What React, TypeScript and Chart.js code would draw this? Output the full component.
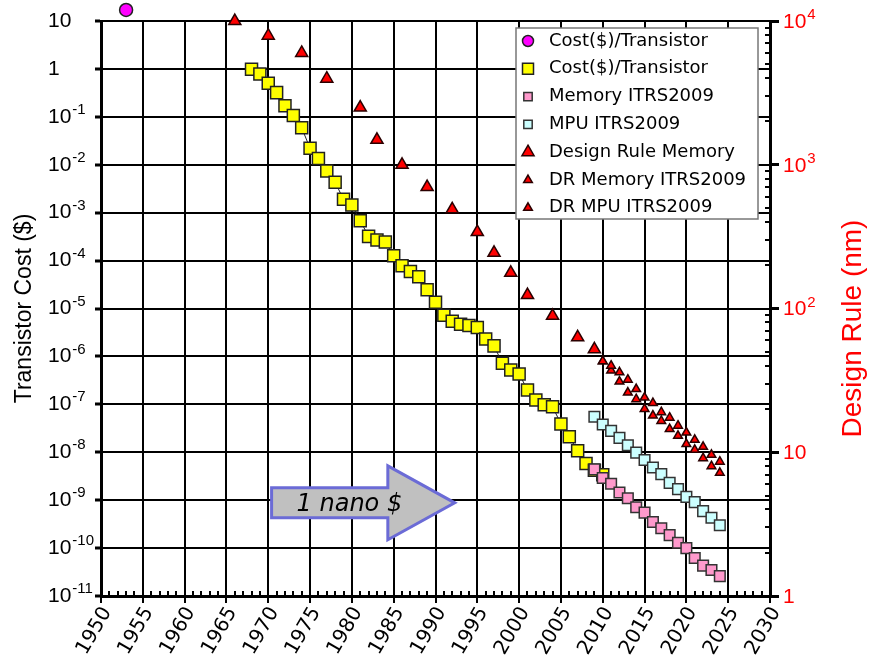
import React, { useEffect, useRef } from 'react';
import { Chart, registerables } from 'chart.js';

Chart.register(...registerables);

// ---------- data ----------
const circleYears = [1953];
const circleCost = [17];

const costYears = [
  1968, 1969, 1970, 1971, 1972, 1973, 1974, 1975, 1976, 1977, 1978, 1979, 1980,
  1981, 1982, 1983, 1984, 1985, 1986, 1987, 1988, 1989, 1990, 1991, 1992, 1993,
  1994, 1995, 1996, 1997, 1998, 1999, 2000, 2001, 2002, 2003, 2004, 2005, 2006,
  2007, 2008, 2009, 2010,
];
const costValues = [
  0.98, 0.78, 0.5, 0.32, 0.17, 0.107, 0.059, 0.022, 0.0135, 0.0074, 0.0043, 0.0019, 0.00145,
  6.8e-4, 3.2e-4, 2.7e-4, 2.45e-4, 1.26e-4, 7.8e-5, 5.9e-5, 4.6e-5, 2.45e-5, 1.35e-5, 7.2e-6, 5.4e-6, 4.7e-6,
  4.4e-6, 4.0e-6, 2.3e-6, 1.66e-6, 7.2e-7, 5.2e-7, 4.3e-7, 2.0e-7, 1.23e-7, 9.8e-8, 8.9e-8, 3.9e-8, 2.1e-8,
  1.07e-8, 5.8e-9, 4.2e-9, 3.4e-9,
];

const itrsYears = [2009, 2010, 2011, 2012, 2013, 2014, 2015, 2016, 2017, 2018, 2019, 2020, 2021, 2022, 2023, 2024];
const memoryCost = [
  4.4e-9, 2.9e-9, 2.2e-9, 1.45e-9, 1.1e-9, 7.1e-10, 5.5e-10, 3.5e-10,
  2.6e-10, 1.86e-10, 1.29e-10, 1.0e-10, 6.2e-11, 4.3e-11, 3.5e-11, 2.6e-11,
];
const mpuCost = [
  5.5e-8, 3.8e-8, 2.8e-8, 2.0e-8, 1.4e-8, 9.8e-9, 6.9e-9, 4.8e-9,
  3.5e-9, 2.3e-9, 1.7e-9, 1.17e-9, 9.1e-10, 5.9e-10, 4.3e-10, 3.0e-10,
];

const drYears = [1966, 1970, 1974, 1977, 1981, 1983, 1986, 1989, 1992, 1995, 1997, 1999, 2001, 2004, 2007, 2009];
const drValues = [10000, 7900, 6000, 3970, 2500, 1490, 1000, 700, 490, 340, 244, 177, 124, 89, 63, 52];

const drItrsYears = [2010, 2011, 2012, 2013, 2014, 2015, 2016, 2017, 2018, 2019, 2020, 2021, 2022, 2023, 2024];
const drMemItrs = [43, 40, 36, 32, 27.5, 24, 22, 19, 17.4, 15.3, 13.7, 12.2, 10.9, 9.6, 8.6];
const drMpuItrs = [43, 37, 31, 26, 23.4, 20, 18, 16.5, 14.5, 13, 11.4, 10.4, 9.1, 8.0, 7.2];

const leftExponents = [1, 0, -1, -2, -3, -4, -5, -6, -7, -8, -9, -10, -11];
const rightExponents = [4, 3, 2, 1, 0];
const yearMin = 1950;
const yearMax = 2030;
const yearStep = 5;

const leftTitle = 'Transistor Cost ($)';
const rightTitle = 'Design Rule (nm)';

const arrowText = '1 nano $';
const arrowStartYear = 1970.4;
const arrowHeadYear = 1984.3;
const arrowTipYear = 1992.3;
const arrowCost = 8.8e-10;

// ---------- helpers ----------
function zip(xs: number[], ys: number[]) {
  return xs.map((x, i) => ({ x, y: ys[i] }));
}

const SANS = '"Liberation Sans", Arial, sans-serif';
const COMIC = '"Comic Sans MS", "DejaVu Sans", sans-serif';

// draws "10" with a raised exponent, or "1" / "10" for exponents 0 / 1
function drawPowerLabel(ctx: CanvasRenderingContext2D, e: number, x: number, y: number, color: string) {
  ctx.fillStyle = color;
  ctx.textAlign = 'left';
  ctx.textBaseline = 'middle';
  ctx.font = '21px ' + SANS;
  if (e === 0) { ctx.fillText('1', x, y); return; }
  ctx.fillText('10', x, y);
  if (e === 1) return;
  const w = ctx.measureText('10').width;
  ctx.font = '15px ' + SANS;
  ctx.fillText(String(e), x + w + 1, y - 7);
}

type Marker = { shape: 'circle' | 'rect' | 'triangle'; size: number };
const legendMarkers: Marker[] = [
  { shape: 'circle', size: 5.5 },
  { shape: 'rect', size: 5.5 },
  { shape: 'rect', size: 4.2 },
  { shape: 'rect', size: 4.2 },
  { shape: 'triangle', size: 7 },
  { shape: 'triangle', size: 5 },
  { shape: 'triangle', size: 5 },
];

function drawMarker(ctx: CanvasRenderingContext2D, m: Marker, x: number, y: number, fill: string, stroke: string) {
  ctx.beginPath();
  if (m.shape === 'circle') {
    ctx.arc(x, y, m.size, 0, Math.PI * 2);
  } else if (m.shape === 'rect') {
    ctx.rect(x - m.size, y - m.size, m.size * 2, m.size * 2);
  } else {
    const r = m.size;
    ctx.moveTo(x, y - r);
    ctx.lineTo(x + r * 0.866, y + r * 0.5);
    ctx.lineTo(x - r * 0.866, y + r * 0.5);
    ctx.closePath();
  }
  ctx.fillStyle = fill;
  ctx.fill();
  ctx.strokeStyle = stroke;
  ctx.lineWidth = 1.5;
  ctx.stroke();
}

const extrasPlugin = {
  id: 'extras',
  afterDatasetsDraw(chart: any) {
    const { ctx, scales } = chart;
    // points that sit above the plot frame (Chart.js skips them inside the area check)
    ctx.save();
    chart.getDatasetMeta(0).data.forEach((el: any) => el.draw(ctx));
    ctx.restore();

    const x = scales.x;
    const y = scales.y;
    const xs = x.getPixelForValue(arrowStartYear);
    const xh = x.getPixelForValue(arrowHeadYear);
    const xt = x.getPixelForValue(arrowTipYear);
    const yc = y.getPixelForValue(arrowCost);
    const sh = 15;
    const hh = 37;
    ctx.save();
    ctx.beginPath();
    ctx.moveTo(xs, yc - sh);
    ctx.lineTo(xh, yc - sh);
    ctx.lineTo(xh, yc - hh);
    ctx.lineTo(xt, yc);
    ctx.lineTo(xh, yc + hh);
    ctx.lineTo(xh, yc + sh);
    ctx.lineTo(xs, yc + sh);
    ctx.closePath();
    ctx.fillStyle = '#c0c0c0';
    ctx.fill();
    ctx.strokeStyle = '#6b6bd6';
    ctx.lineWidth = 3;
    ctx.lineJoin = 'miter';
    ctx.stroke();
    ctx.fillStyle = '#000';
    ctx.font = 'italic 24px ' + COMIC;
    ctx.textAlign = 'left';
    ctx.textBaseline = 'middle';
    ctx.fillText(arrowText, xs + 25, yc + 2);
    ctx.restore();
  },
  afterDraw(chart: any) {
    const { ctx, scales, chartArea } = chart;
    const x = scales.x;
    const y = scales.y;
    const y2 = scales.y2;
    ctx.save();
    ctx.strokeStyle = '#000';
    ctx.lineWidth = 2;
    // minor ticks on the year axis (inward)
    for (let yr = yearMin + 1; yr < yearMax; yr++) {
      if (yr % yearStep === 0) continue;
      const px = Math.round(x.getPixelForValue(yr));
      ctx.beginPath();
      ctx.moveTo(px, chartArea.bottom);
      ctx.lineTo(px, chartArea.bottom - 5);
      ctx.stroke();
    }
    // minor ticks on the design-rule axis (inward)
    for (let e = 0; e < 4; e++) {
      for (let m = 2; m <= 9; m++) {
        const py = Math.round(y2.getPixelForValue(m * Math.pow(10, e)));
        ctx.beginPath();
        ctx.moveTo(chartArea.right, py);
        ctx.lineTo(chartArea.right - 5, py);
        ctx.stroke();
      }
    }
    // tick labels with superscript exponents
    leftExponents.forEach((e) => {
      drawPowerLabel(ctx, e, 48, y.getPixelForValue(Math.pow(10, e)), '#000');
    });
    rightExponents.forEach((e) => {
      drawPowerLabel(ctx, e, chartArea.right + 13, y2.getPixelForValue(Math.pow(10, e)) + 1, '#ff0000');
    });
    // right axis title (reads bottom to top)
    ctx.fillStyle = '#ff0000';
    ctx.font = '28px ' + SANS;
    ctx.textAlign = 'center';
    ctx.textBaseline = 'middle';
    ctx.translate(chartArea.right + 83, (chartArea.top + chartArea.bottom) / 2 + 20);
    ctx.rotate(-Math.PI / 2);
    ctx.fillText(rightTitle, 0, 0);
    ctx.restore();

    // legend box
    const lx = 516;
    const ly = 28;
    const lw = 242;
    const lh = 191;
    ctx.save();
    ctx.fillStyle = '#ffffff';
    ctx.fillRect(lx, ly, lw, lh);
    ctx.strokeStyle = '#777';
    ctx.lineWidth = 1.5;
    ctx.strokeRect(lx, ly, lw, lh);
    ctx.font = '18px ' + COMIC;
    ctx.textAlign = 'left';
    ctx.textBaseline = 'middle';
    chart.data.datasets.forEach((ds: any, i: number) => {
      const rowY = ly + 13 + i * 27.8;
      drawMarker(ctx, legendMarkers[i], lx + 12, rowY, ds.pointBackgroundColor, ds.pointBorderColor);
      ctx.fillStyle = '#000';
      ctx.fillText(ds.label, lx + 33, rowY);
    });
    ctx.restore();
  },
};

export default function App() {
  const canvasRef = useRef<HTMLCanvasElement | null>(null);

  useEffect(() => {
    const canvas = canvasRef.current;
    if (!canvas) return;
    const pt = (fill: string, stroke: string, style: string, radius: number) => ({
      pointBackgroundColor: fill,
      pointBorderColor: stroke,
      backgroundColor: fill,
      borderColor: stroke,
      pointStyle: style,
      pointRadius: radius,
      pointBorderWidth: 1.5,
      clip: false as const,
    });
    const chart = new Chart(canvas, {
      type: 'scatter',
      data: {
        datasets: [
          { label: 'Cost($)/Transistor', data: zip(circleYears, circleCost), yAxisID: 'y', ...pt('#ff00ff', '#222', 'circle', 6.5) },
          {
            label: 'Cost($)/Transistor', data: zip(costYears, costValues), yAxisID: 'y', order: 2,
            ...pt('#ffff00', '#222', 'rect', 8.5),
            showLine: true, borderColor: '#222', borderWidth: 1,
          },
          { label: 'Memory ITRS2009', data: zip(itrsYears, memoryCost), yAxisID: 'y', order: 1, ...pt('#ff99cc', '#333', 'rect', 7.5) },
          { label: 'MPU ITRS2009', data: zip(itrsYears, mpuCost), yAxisID: 'y', order: 1, ...pt('#ccffff', '#333', 'rect', 7.5) },
          { label: 'Design Rule Memory', data: zip(drYears, drValues), yAxisID: 'y2', ...pt('#ff0000', '#2a0000', 'triangle', 7) },
          { label: 'DR Memory ITRS2009', data: zip(drItrsYears, drMemItrs), yAxisID: 'y2', ...pt('#ff0000', '#2a0000', 'triangle', 5) },
          { label: 'DR MPU ITRS2009', data: zip(drItrsYears, drMpuItrs), yAxisID: 'y2', ...pt('#ff0000', '#2a0000', 'triangle', 5) },
        ] as any,
      },
      options: {
        animation: false,
        responsive: false,
        events: [],
        layout: { padding: { top: 21, left: 0, right: 0, bottom: 0 } },
        plugins: {
          legend: { display: false },
          tooltip: { enabled: false },
        },
        scales: {
          x: {
            type: 'linear',
            position: 'bottom',
            min: yearMin,
            max: yearMax,
            afterFit: (s: any) => { s.height = 65; },
            grid: { color: '#000', lineWidth: 2, tickLength: 7, tickWidth: 2 },
            border: { display: true, color: '#000', width: 3 },
            ticks: {
              stepSize: yearStep,
              autoSkip: false,
              maxRotation: 60,
              minRotation: 60,
              padding: 0,
              labelOffset: 6,
              color: '#000',
              font: { family: COMIC, size: 20 },
              callback: (v: any) => String(v),
            },
          },
          y: {
            type: 'logarithmic',
            position: 'left',
            min: Math.pow(10, leftExponents[leftExponents.length - 1]),
            max: Math.pow(10, leftExponents[0]),
            afterFit: (s: any) => { s.width = 101; },
            afterBuildTicks: (s: any) => { s.ticks = leftExponents.map((e) => ({ value: Math.pow(10, e) })); },
            grid: { color: '#000', lineWidth: 2, tickLength: 6, tickWidth: 3 },
            border: { display: true, color: '#000', width: 3 },
            ticks: { display: false },
            title: {
              display: true,
              text: leftTitle,
              color: '#000',
              font: { family: SANS, size: 23 },
              padding: { top: 11, bottom: 0 },
            },
          },
          y2: {
            type: 'logarithmic',
            position: 'right',
            min: Math.pow(10, rightExponents[rightExponents.length - 1]),
            max: Math.pow(10, rightExponents[0]),
            afterFit: (s: any) => { s.width = 103; },
            afterBuildTicks: (s: any) => { s.ticks = rightExponents.map((e) => ({ value: Math.pow(10, e) })); },
            grid: { drawOnChartArea: false, color: '#000', lineWidth: 3, tickLength: 9 },
            border: { display: true, color: '#000', width: 3 },
            ticks: { display: false },
          },
        },
      } as any,
      plugins: [extrasPlugin],
    });
    return () => chart.destroy();
  }, []);

  return (
    <div style={{ position: 'absolute', left: 0, top: 0, width: 873, height: 661, background: '#fff' }}>
      <canvas ref={canvasRef} width={873} height={661} style={{ display: 'block' }} />
    </div>
  );
}
